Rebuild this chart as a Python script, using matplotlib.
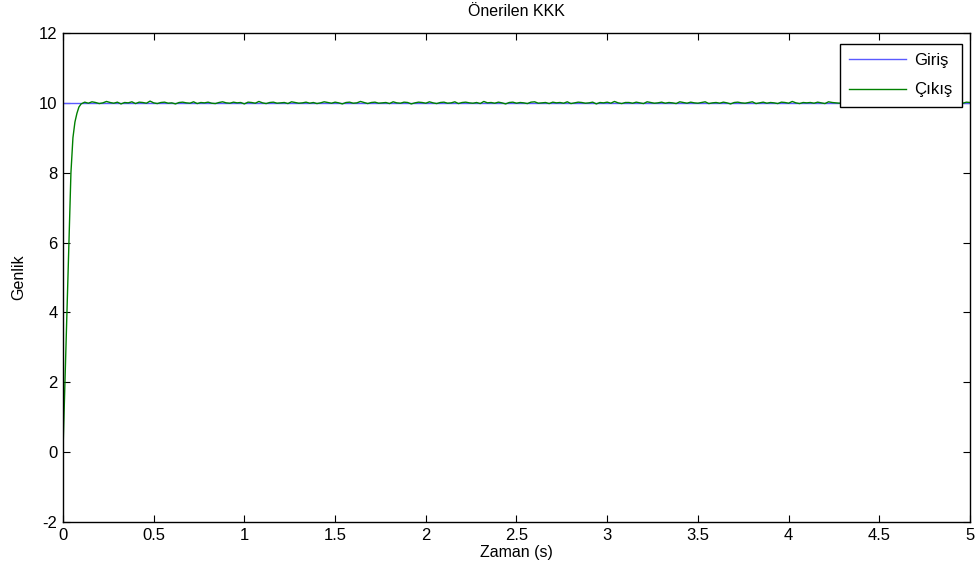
import numpy as np
from matplotlib import pyplot as plt

plt.rcParams['font.family'] = ['Liberation Sans', 'DejaVu Sans']
plt.rcParams['axes.unicode_minus'] = False

# reference input (step of 10)
input_t = [0.0, 5.0]
input_y = [10.0, 10.0]

# rise of the output during the first 0.1 s
rise_t = [0.0, 0.011, 0.022, 0.033, 0.044, 0.055, 0.066, 0.077, 0.088, 0.1]
rise_y = [0.0, 2.0, 4.0, 6.0, 8.0, 9.0, 9.45, 9.7, 9.88, 9.97]

# steady part: deviation from 10 in hundredths, one value every 0.02 s from 0.12 s
steady_dev = [
    2, -1, 3, 1, -2, 0, 4, 1, -1, 2, -3, 1, 0, 3, -2, 2, 1, -1, 5, 0,
    -2, 1, 2, -1, 0, -3, 1, 2, 0, -1, 3, -2, 1, 0, 2, -1, -2, 1, 3, 0,
    -1, 2, 0, 1, -3, 2, 1, -1, 4, 0, -2, 1, 2, -1, 0, 1, -2, 3, 1, -1,
    0, 2, -1, 1, -2, 0, 3, 1, -1, 2, 0, -3, 1, 2, -1, 0, 4, 1, -2, 1,
    2, -1, 0, 1, -2, 3, 0, -1, 2, 1, -3, 0, 2, 1, -1, 3, 0, -2, 1, 2,
    -1, 0, 3, -2, 1, 2, 0, -1, 1, -2, 4, 0, 1, -1, 2, 0, -3, 1, 2, -1,
    1, 0, -2, 2, 3, -1, 0, 1, -2, 2, 0, 1, -1, 3, -2, 0, 2, 1, -1, 0,
    2, -3, 1, 0, 2, -1, 4, 0, -2, 1, 1, -1, 2, 0, -2, 3, 1, -1, 0, 2,
    -1, 1, 0, -2, 3, 1, -1, 2, 0, -1, 1, 3, -2, 0, 1, -1, 2, 0, -3, 1,
    2, 0, -1, 1, 3, -2, 0, 2, -1, 1, 0, -2, 2, 1, -1, 4, 0, -2, 1, 0,
    1, -1, 2, 0, -2, 3, 1, 0, -1, 2, -2, 1, 0, 3, -1, 0, 2, -1, 1, -2,
    0, 2, 1, -1, 3, 0, -2, 1, 2, -1, 0, 1, -3, 2, 0, 1, -1, 2, 0, -1,
    3, 0, -1, 2, 1,
]

steady_t = 0.12 + 0.02 * np.arange(len(steady_dev))
out_t = np.concatenate([rise_t, steady_t])
out_y = np.concatenate([rise_y, 10 + np.array(steady_dev) / 100.0])

fig = plt.figure(figsize=(9.76, 5.83), dpi=100)
ax = fig.add_axes([0.0645, 0.1046, 0.9294, 0.8388])

ax.plot(input_t, input_y, color='#5a5aff', lw=1.0, label='Giriş')
ax.plot(out_t, out_y, color='#008000', lw=1.0, label='Çıkış')

ax.set_xlim(0, 5)
ax.set_ylim(-2, 12)
ax.set_xticks(np.arange(0, 5.01, 0.5))
ax.set_xticklabels(['0', '0.5', '1', '1.5', '2', '2.5', '3', '3.5', '4', '4.5', '5'])
ax.set_yticks(np.arange(-2, 12.01, 2))
ax.tick_params(direction='in', top=True, right=True, length=5, width=0.8,
               labelsize=12, pad=4)
for s in ax.spines.values():
    s.set_linewidth(1.0)

ax.set_title('Önerilen KKK', fontsize=11.5, pad=12)
ax.set_xlabel('Zaman (s)', fontsize=11.5, labelpad=2)
ax.set_ylabel('Genlik', fontsize=11.5, labelpad=9)

leg = ax.legend(loc='upper right', bbox_to_anchor=(0.991, 0.9775), borderaxespad=0,
                fancybox=False, framealpha=1, edgecolor='black', fontsize=12,
                handlelength=3.4, handletextpad=0.5, borderpad=0.55, labelspacing=0.85)
leg.get_frame().set_linewidth(1.0)

fig.savefig('out.png', dpi=100)
